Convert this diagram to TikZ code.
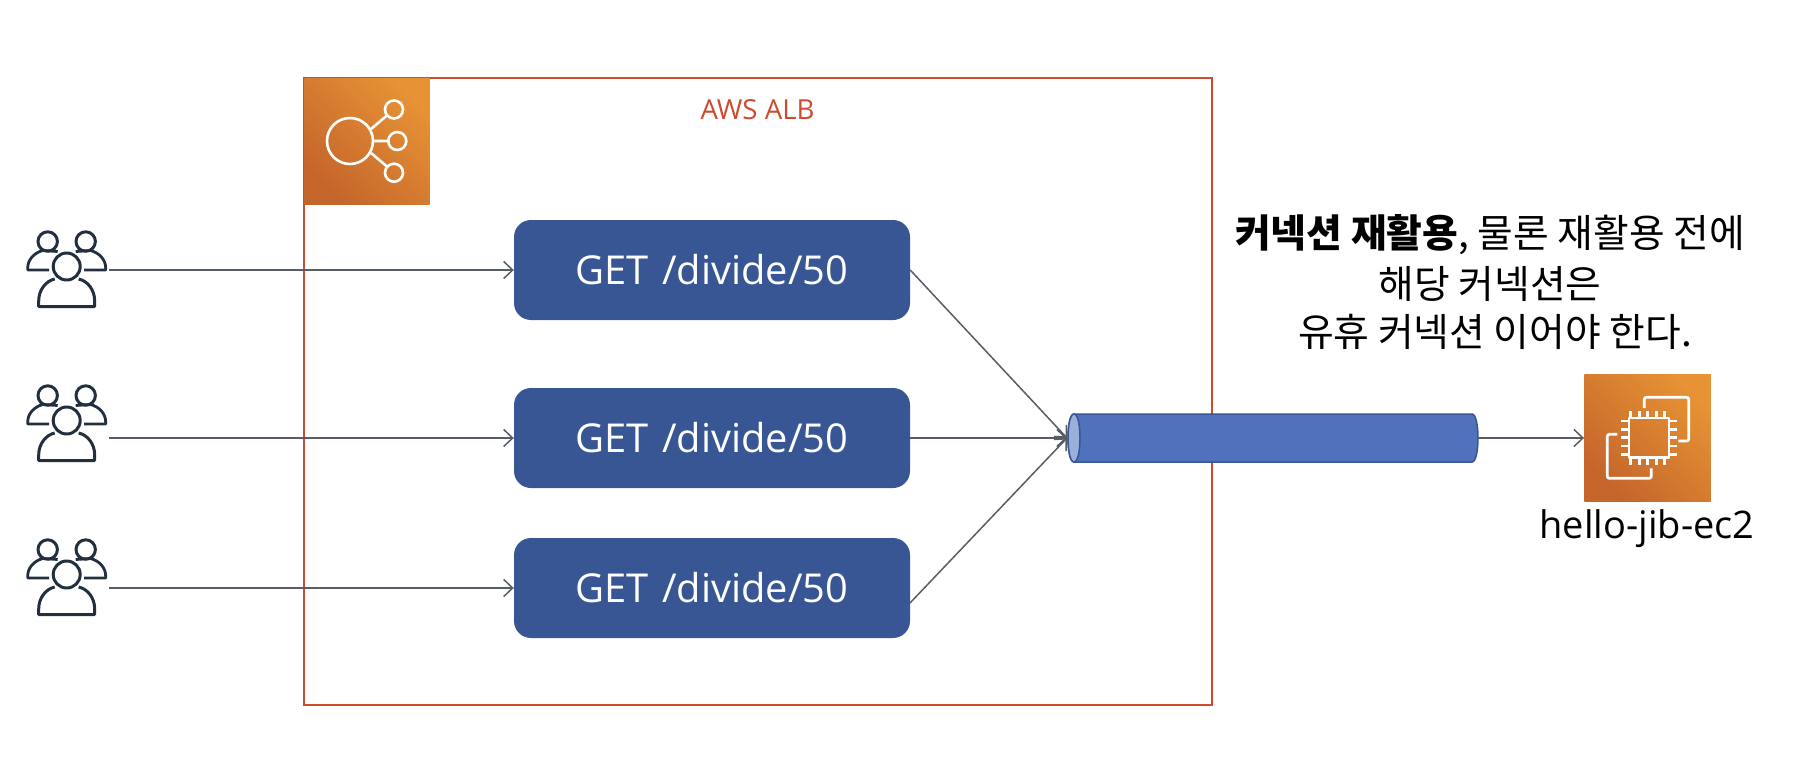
\documentclass[tikz,border=0pt]{standalone}
\usepackage{fontspec}
\setmainfont{Open Sans}
\newfontfamily\kr{Noto Sans CJK KR}
\usetikzlibrary{arrows.meta}
\definecolor{framered}{HTML}{CF4A2E}
\definecolor{boxblue}{HTML}{395694}
\definecolor{pipeblue}{HTML}{5072BC}
\definecolor{pipeedge}{HTML}{395694}
\definecolor{pipecap}{HTML}{9AAFDB}
\definecolor{lineg}{HTML}{575D66}
\definecolor{navy}{HTML}{232F3E}
\definecolor{awslo}{HTML}{C4652B}
\definecolor{awshi}{HTML}{E69235}
\tikzset{
 x=1pt,y=-1pt,
 px/.style={font=\fontsize{#1}{#1}\selectfont},
 reqbox/.style={draw=none,fill=boxblue,rounded corners=17pt,minimum width=396pt,minimum height=100pt,inner sep=0pt,text=white,px=39.8},
 usernode/.style={minimum width=86pt,minimum height=78pt,inner sep=0pt},
 awsicon/.style={minimum width=#1,minimum height=#1,inner sep=0pt,top color=awshi,bottom color=awslo,shading angle=-45},
 flow/.style={draw=lineg,line width=1.5pt,-{Straight Barb[length=9pt,width=17pt,line width=1.5pt]}},
 pipeline/.style={draw=pipeedge,line width=1.5pt},
 usericon/.pic={
  \draw[navy,line width=3pt,line join=round]
   (-19,-28.5) circle[radius=9.7] (19,-28.5) circle[radius=9.7] (0,-3.5) circle[radius=13.5];
  \draw[navy,line width=2.8pt,line join=round]
   (-17.5,0) -- (-39,0) -- (-39,-2) .. controls (-39,-10) and (-33,-17) .. (-24,-19.5) -- (-9,-18.5)
   (17.5,0) -- (39,0) -- (39,-2) .. controls (39,-10) and (33,-17) .. (24,-19.5) -- (9,-18.5);
  \draw[navy,line width=3pt,line join=round]
   (-12,9) .. controls (-21,11) and (-28,20) .. (-28,31) -- (-28,36.5) -- (28,36.5) -- (28,31) .. controls (28,20) and (21,11) .. (12,9);
 },
}
\begin{document}
\begin{tikzpicture}
\useasboundingbox (0,0) rectangle (1808,760);
% frame
\node[draw=framered,line width=1.6pt,minimum width=908pt,minimum height=627pt,inner sep=0pt] (frame) at (758,391.5) {};
\node[text=framered,px=27.6,anchor=center] (alblabel) at (757.5,110) {AWS ALB};
% ALB icon
\node[awsicon=125pt] (alb) at (367,141.5) {};
\begin{scope}[draw=white,line width=2.6pt]
 \draw (350,141) circle[radius=23];
 \draw (394,109.5) circle[radius=9] (397.3,141) circle[radius=9] (394,172.7) circle[radius=9];
 \draw (371,129) -- (387,115.5) (373.5,141) -- (388,141) (371,153) -- (387,166.5);
\end{scope}
% users
\node[usernode] (u1) at (66,270) {};
\node[usernode] (u2) at (66,438) {};
\node[usernode] (u3) at (66,588) {};
\pic at (66.7,270) {usericon};
\pic at (66.7,424) {usericon};
\pic at (66.7,578) {usericon};
% boxes
\node[reqbox] (b1) at (712,270) {GET\hspace{3pt} /divide/50};
\node[reqbox] (b2) at (712,438) {GET\hspace{3pt} /divide/50};
\node[reqbox] (b3) at (712,588) {GET\hspace{3pt} /divide/50};
\coordinate (b3out) at (910,603);
% pipe
\node[minimum width=411pt,minimum height=48pt,inner sep=0pt,outer sep=0pt] (pipe) at (1272.5,438) {};
\draw[pipeline,fill=pipeblue]
  (1074,414) -- (1472,414) .. controls (1480,414) and (1480,462) .. (1472,462)
  -- (1074,462) .. controls (1066,462) and (1066,414) .. (1074,414) -- cycle;
\draw[pipeline,fill=pipecap]
  (1074,414) .. controls (1082,414) and (1082,462) .. (1074,462)
  .. controls (1066,462) and (1066,414) .. (1074,414) -- cycle;
% EC2
\node[awsicon=126.5pt] (ec2) at (1647.5,438) {};
\begin{scope}[draw=white,line width=2.7pt,line join=round]
 \draw (1629,418) rectangle (1669,457.5);
 \draw[rounded corners=2pt] (1644.3,408) -- (1644.3,397.3) -- (1688.7,397.3) -- (1688.7,441) -- (1678.3,441);
 \draw[rounded corners=2pt] (1651.3,468.3) -- (1651.3,478.3) -- (1607.3,478.3) -- (1607.3,434.3) -- (1617.3,434.3);
 \foreach \p in {0,1,2,3,4}{
  \draw (1630.7+\p*8.5,411) -- (1630.7+\p*8.5,418);
  \draw (1630.7+\p*8.5,457.5) -- (1630.7+\p*8.5,465);
  \draw (1621,421+\p*8.35) -- (1629,421+\p*8.35);
  \draw (1669,421+\p*8.35) -- (1676.5,421+\p*8.35);
 }
\end{scope}
\node[px=38,anchor=center] (ec2label) at (1647,529) {hello-jib-ec2};
% text
\node[px=38.8,anchor=center] (t1) at (1490,235) {\kr\textbf{커넥션 재활용}, 물론 재활용 전에};
\node[px=38.8,anchor=center] (t2) at (1490,284) {\kr 해당 커넥션은};
\node[px=38.8,anchor=center] (t3) at (1495,332) {\kr 유휴 커넥션 이어야 한다.};
% connectors
\draw[flow] (u1.east) -- (b1.west);
\draw[flow] (u2.east) -- (b2.west);
\draw[flow] (u3.east) -- (b3.west);
\draw[flow] (b1.east) -- (pipe.west);
\draw[flow] (b2.east) -- (pipe.west);
\draw[flow] (b3out) -- (pipe.west);
\draw[flow] (pipe.east) -- (ec2.west);
\end{tikzpicture}
\end{document}
